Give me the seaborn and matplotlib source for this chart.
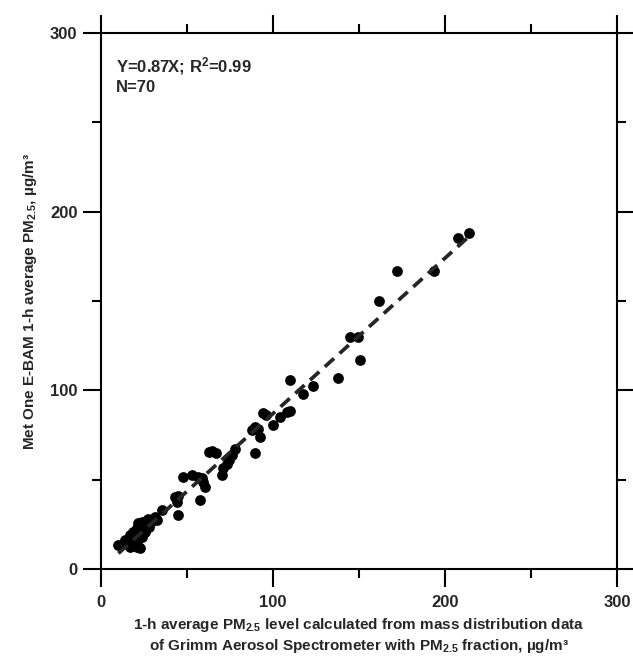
import numpy as np
import pandas as pd
import seaborn as sns
import matplotlib.pyplot as plt
from matplotlib.ticker import MultipleLocator

#%% data
grimm_pm25 = [
    213.8, 207.7, 193.8, 172.1, 161.4, 144.8, 149.6, 150.6, 138.0, 109.9,
    123.4, 117.6, 109.9, 108.0, 104.0, 94.4, 100.2, 87.6, 89.5, 92.4,
    89.7, 77.9, 64.4, 66.9, 74.6, 73.1, 71.1, 70.2, 47.9, 52.7,
    56.6, 59.5, 60.5, 57.6, 43.0, 44.0, 44.6, 35.3, 31.4, 27.5,
    23.6, 21.7, 20.7, 18.8, 16.9, 14.0, 23.6, 20.7, 16.9, 10.1,
    14.9, 25.6, 22.7, 26.5, 29.0, 24.5, 19.5, 22.0, 18.0, 12.5,
    28.0, 32.5, 21.0, 63.0, 76.0, 96.0, 91.0, 58.5, 45.0, 26.0,
]
ebam_pm25 = [
    187.9, 185.4, 166.8, 166.8, 150.0, 129.8, 129.7, 117.0, 106.9, 105.9,
    102.6, 97.8, 88.4, 88.0, 85.2, 87.5, 80.6, 77.8, 79.6, 74.0,
    65.1, 67.0, 66.2, 65.1, 61.0, 58.8, 56.3, 52.6, 51.7, 52.6,
    51.7, 48.9, 46.1, 38.6, 40.5, 37.7, 30.2, 33.0, 29.3, 27.8,
    26.5, 25.6, 22.8, 20.9, 19.0, 16.2, 18.1, 12.5, 12.1, 13.4,
    15.3, 20.9, 11.6, 24.0, 26.5, 22.0, 17.5, 20.0, 14.5, 14.0,
    23.5, 27.5, 15.0, 65.5, 64.0, 86.0, 78.5, 51.0, 41.0, 27.0,
]
slope = 0.87
r2 = 0.99

df = pd.DataFrame({"grimm": grimm_pm25, "ebam": ebam_pm25})

#%% style
sns.set_style("ticks")
plt.rcParams["font.family"] = ["Liberation Sans", "DejaVu Sans"]
plt.rcParams["font.weight"] = "bold"
plt.rcParams["mathtext.default"] = "regular"

fig = plt.figure(figsize=(6.33, 6.57), dpi=100)
ax = fig.add_axes([0.1596, 0.1339, 0.8151, 0.8159])

sns.scatterplot(
    x="grimm",
    y="ebam",
    data=df,
    color="black",
    s=60,
    linewidth=0,
    ax=ax,
)

# fit line through origin, over the range of the data
fit_x = np.array([df.grimm.min(), df.grimm.max()])
ax.plot(
    fit_x,
    slope * fit_x,
    color="#262626",
    linewidth=2.7,
    linestyle=(0, (3.3, 2.0)),
)

ax.set_xlim(0, 300)
ax.set_ylim(0, 300)
ax.xaxis.set_major_locator(MultipleLocator(100))
ax.xaxis.set_minor_locator(MultipleLocator(50))
ax.yaxis.set_major_locator(MultipleLocator(100))
ax.yaxis.set_minor_locator(MultipleLocator(50))

for side in ["left", "right", "top", "bottom"]:
    ax.spines[side].set_visible(True)
    ax.spines[side].set_linewidth(1.5)
    ax.spines[side].set_color("black")

ax.tick_params(which="both", direction="out", top=True, right=True,
               color="black", width=1.5, labelsize=12)
ax.tick_params(axis="x", pad=6)
ax.tick_params(axis="y", pad=4)
ax.tick_params(which="major", length=13)
ax.tick_params(which="minor", length=6.5)
for lab in ax.get_xticklabels() + ax.get_yticklabels():
    lab.set_fontweight("bold")

ax.set_xlabel(
    "1-h average PM$_{2.5}$ level calculated from mass distribution data\n"
    "of Grimm Aerosol Spectrometer with PM$_{2.5}$ fraction, µg/m³",
    fontsize=11, fontweight="bold", labelpad=4, linespacing=1.25,
)
ax.set_ylabel(
    "Met One E-BAM 1-h average PM$_{2.5}$, µg/m³",
    fontsize=11, fontweight="bold", labelpad=8,
)

ax.text(
    0.029, 0.958,
    f"Y={slope:.2f}X; R$^{{2}}$={r2:.2f}\nN={len(df)}",
    transform=ax.transAxes, ha="left", va="top",
    fontsize=12, fontweight="bold", linespacing=1.2,
)

fig.savefig("out.png", dpi=100)
